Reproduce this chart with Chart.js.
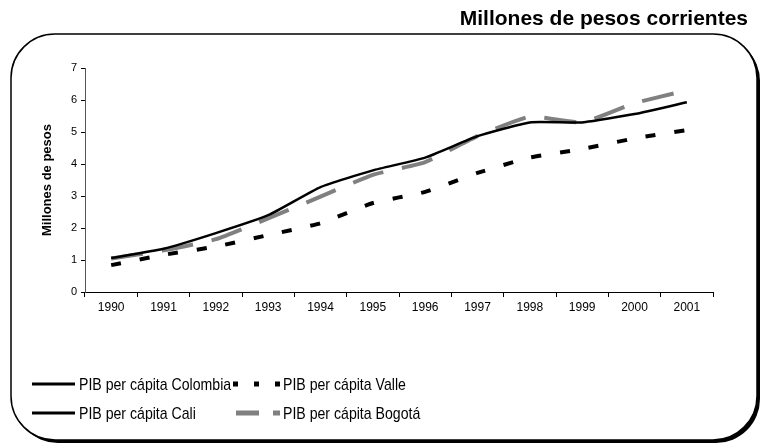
<!DOCTYPE html>
<html>
<head>
<meta charset="utf-8">
<script src="https://cdn.jsdelivr.net/npm/chart.js@4.4.1/dist/chart.umd.min.js"></script>
<style>
  body { margin: 0; background: #fff; }
  #wrap { width: 760px; height: 443px; position: relative; }
</style>
</head>
<body>
<div id="wrap"><canvas id="pibChart"></canvas></div>
<script>
// Data (millones de pesos corrientes)
const years = ['1990', '1991', '1992', '1993', '1994', '1995', '1996', '1997', '1998', '1999', '2000', '2001'];
const colombiaValues = [1.06, 1.35, 1.84, 2.4, 3.28, 3.8, 4.2, 4.87, 5.3, 5.3, 5.56, 5.93];
const valleValues = [0.84, 1.16, 1.42, 1.78, 2.15, 2.78, 3.13, 3.72, 4.2, 4.47, 4.8, 5.06];
const caliValues = []; // no separate line visible in the picture
const bogotaValues = [1.05, 1.3, 1.65, 2.3, 2.98, 3.66, 4.06, 4.87, 5.48, 5.3, 5.9, 6.3];
const yTicks = [0, 1, 2, 3, 4, 5, 6, 7];

const FONT = "'Liberation Sans', Arial, sans-serif";

// frame, title and the two-column legend
const framePlugin = {
  id: 'frame',
  beforeDraw(chart) {
    const ctx = chart.ctx;
    ctx.save();
    ctx.fillStyle = '#000';
    ctx.beginPath();
    ctx.roundRect(14, 37, 746, 406, 44);
    ctx.fill();
    ctx.fillStyle = '#fff';
    ctx.strokeStyle = '#000';
    ctx.lineWidth = 1.5;
    ctx.beginPath();
    ctx.roundRect(11, 34, 746, 406, 44);
    ctx.fill();
    ctx.stroke();
    ctx.restore();
  },
  afterDraw(chart) {
    const ctx = chart.ctx;
    ctx.save();
    ctx.fillStyle = '#000';
    ctx.font = 'bold 21px ' + FONT;
    ctx.textAlign = 'right';
    ctx.textBaseline = 'alphabetic';
    ctx.fillText('Millones de pesos corrientes', 748, 25);

    const slots = [
      { x0: 32, x1: 75, tx: 79, y: 384, dash: [] },
      { x0: 233, x1: 280, tx: 283, y: 384, dash: [5, 16] },
      { x0: 32, x1: 75, tx: 79, y: 413, dash: [] },
      { x0: 236, x1: 280, tx: 283, y: 413, dash: [23, 14] }
    ];
    ctx.font = '17px ' + FONT;
    ctx.textAlign = 'left';
    ctx.textBaseline = 'middle';
    chart.data.datasets.forEach((ds, i) => {
      const s = slots[i];
      ctx.strokeStyle = ds.borderColor;
      ctx.lineWidth = i === 0 || i === 2 ? 3 : 5;
      ctx.setLineDash(s.dash);
      ctx.beginPath();
      ctx.moveTo(s.x0, s.y);
      ctx.lineTo(s.x1, s.y);
      ctx.stroke();
      ctx.setLineDash([]);
      ctx.fillStyle = '#000';
      const w = ctx.measureText(ds.label).width;
      ctx.fillText(ds.label, s.tx, s.y + 1, w * 0.83);
    });
    ctx.restore();
  }
};

new Chart(document.getElementById('pibChart'), {
  type: 'line',
  data: {
    labels: years,
    datasets: [
      { label: 'PIB per cápita Colombia', data: colombiaValues, borderColor: '#000', borderWidth: 2.5 },
      { label: 'PIB per cápita Valle', data: valleValues, borderColor: '#000', borderWidth: 4, borderDash: [10, 19] },
      { label: 'PIB per cápita Cali', data: caliValues, borderColor: '#000', borderWidth: 2.5 },
      { label: 'PIB per cápita Bogotá', data: bogotaValues, borderColor: '#808080', borderWidth: 4, borderDash: [32, 19] }
    ]
  },
  options: {
    responsive: true,
    maintainAspectRatio: false,
    animation: false,
    layout: { padding: { left: 40, right: 47, top: 68, bottom: 0 } },
    elements: { point: { radius: 0 }, line: { tension: 0.15, borderCapStyle: 'butt' } },
    plugins: { legend: { display: false }, tooltip: { enabled: false } },
    scales: {
      x: {
        offset: true,
        grid: { offset: true, drawOnChartArea: false, color: '#000', tickLength: 5 },
        border: { color: '#000', width: 1 },
        ticks: { color: '#000', font: { family: FONT, size: 12 }, padding: 3, maxRotation: 0 },
        afterFit(scale) { scale.height = 151; }
      },
      y: {
        min: 0,
        max: 7,
        afterBuildTicks(scale) { scale.ticks = yTicks.map(v => ({ value: v })); },
        grid: { drawOnChartArea: false, color: '#000', tickLength: 4 },
        border: { color: '#555', width: 1 },
        ticks: { color: '#000', font: { family: FONT, size: 11 }, padding: 4 },
        title: { display: true, text: 'Millones de pesos', color: '#000', font: { family: FONT, size: 13, weight: 'bold' }, padding: 0 },
        afterFit(scale) { scale.width = 45; }
      }
    }
  },
  plugins: [framePlugin]
});
</script>
</body>
</html>
